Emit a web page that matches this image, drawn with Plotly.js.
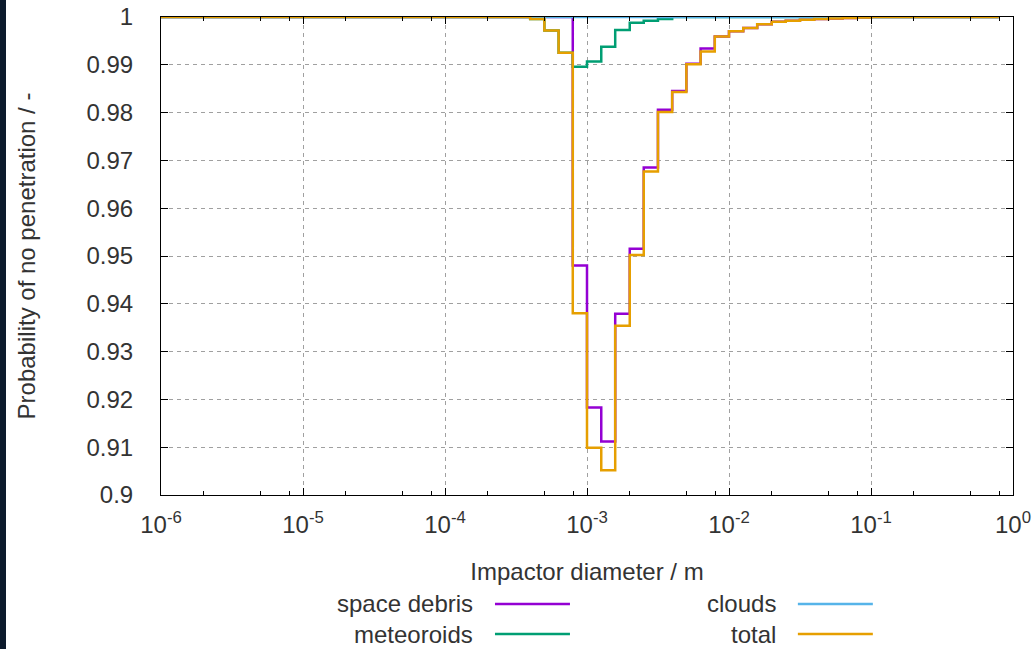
<!DOCTYPE html>
<html><head><meta charset="utf-8">
<script src="https://cdn.plot.ly/plotly-3.0.1.min.js"></script>
<style>
html,body{margin:0;padding:0;background:#fff;overflow:hidden}
#chart{width:1032px;height:649px}
#strip{position:absolute;left:0;top:0;width:6px;height:649px;background:#0c1a2c}
</style></head>
<body><div id="chart"></div><div id="strip"></div>
<script>
// left edges of the diameter bins (m); the last entry closes the last bin
const diameter = [1e-6, 3.98e-4, 5.01e-4, 6.31e-4, 7.94e-4, 1.0e-3, 1.26e-3, 1.58e-3, 2.0e-3, 2.51e-3,
  3.16e-3, 3.98e-3, 5.01e-3, 6.31e-3, 7.94e-3, 1.0e-2, 1.26e-2, 1.58e-2, 2.0e-2, 2.51e-2,
  3.16e-2, 3.98e-2, 5.01e-2, 6.31e-2, 7.94e-2, 1.0e-1, 7.94e-1];
const spaceDebris = [1, 1, 1, 1, 0.948, 0.9183, 0.9112, 0.9379, 0.9515, 0.9685,
  0.9806, 0.9845, 0.9902, 0.9934, 0.9959, 0.9970, 0.9977, 0.9985, 0.9990, 0.9992,
  0.9994, 0.9996, 0.9997, 0.9998, 0.9999, 1, 1];
const meteoroids = [1, 0.9996, 0.9972, 0.9925, 0.9896, 0.9907, 0.9938, 0.9973, 0.9988, 0.9992,
  0.9996, 1, 1, 1, 1, 1, 1, 1, 1, 1,
  1, 1, 1, 1, 1, 1, 1];
const clouds = [1, 1, 1, 1, 1, 1, 1, 1, 1, 1,
  1, 1, 1, 1, 1, 1, 1, 1, 1, 1,
  1, 1, 1, 1, 1, 1, 1];
const total = [1, 0.9996, 0.9972, 0.9925, 0.938, 0.9099, 0.9052, 0.9354, 0.9502, 0.9677,
  0.9801, 0.9843, 0.9901, 0.9928, 0.9959, 0.9970, 0.9977, 0.9985, 0.9990, 0.9992,
  0.9994, 0.9996, 0.9997, 0.9998, 0.9999, 1, 1];

const seriesNames = ['space debris', 'meteoroids', 'clouds', 'total'];
const seriesColors = ['#9400d3', '#009e73', '#56b4e9', '#e69f00'];
const seriesValues = [spaceDebris, meteoroids, clouds, total];

const xTickVals = [1e-6, 1e-5, 1e-4, 1e-3, 1e-2, 1e-1, 1];
const xTickText = ['10<sup>-6</sup>', '10<sup>-5</sup>', '10<sup>-4</sup>', '10<sup>-3</sup>', '10<sup>-2</sup>', '10<sup>-1</sup>', '10<sup>0</sup>'];
const xMinorTicks = [2e-6, 5e-6, 8e-6, 2e-5, 5e-5, 8e-5, 2e-4, 5e-4, 8e-4, 2e-3, 5e-3, 8e-3, 2e-2, 5e-2, 8e-2, 2e-1, 5e-1, 8e-1];
const yTickVals = [0.9, 0.91, 0.92, 0.93, 0.94, 0.95, 0.96, 0.97, 0.98, 0.99, 1];
const yTickText = ['0.9', '0.91', '0.92', '0.93', '0.94', '0.95', '0.96', '0.97', '0.98', '0.99', '1'];

const FONT = 'Liberation Sans, Arial, sans-serif';
const TXT = '#333333';
const FS = 24;

const traces = seriesNames.map((name, i) => ({
  type: 'scatter', mode: 'lines', name: name,
  x: diameter, y: seriesValues[i],
  line: {shape: 'hv', color: seriesColors[i], width: 2.5},
  showlegend: false, hoverinfo: 'x+y+name'
}));

// legend drawn gnuplot-style: text right-aligned, then line sample
const legX = [0.3685, 0.724];
const legY = [-0.228, -0.2908];
const annotations = [];
const shapes = [];
seriesNames.forEach((name, i) => {
  const col = i < 2 ? 0 : 1, row = i % 2;
  annotations.push({xref: 'paper', yref: 'paper', x: legX[col], y: legY[row], xanchor: 'right', yanchor: 'middle',
    text: name, showarrow: false, font: {family: FONT, size: FS, color: TXT}});
  shapes.push({type: 'line', xref: 'paper', yref: 'paper', x0: legX[col] + 0.0235, x1: legX[col] + 0.1115,
    y0: legY[row], y1: legY[row], line: {color: seriesColors[i], width: 2.5}});
});

const layout = {
  width: 1032, height: 649,
  margin: {l: 161, r: 19, t: 17, b: 154},
  paper_bgcolor: '#ffffff', plot_bgcolor: '#ffffff',
  font: {family: FONT, size: FS, color: TXT},
  xaxis: {
    type: 'log', range: [-6, 0],
    tickmode: 'array', tickvals: xTickVals, ticktext: xTickText,
    tickfont: {family: FONT, size: FS, color: TXT},
    ticks: 'inside', ticklen: 7, tickwidth: 1, tickcolor: '#000',
    showline: true, linecolor: '#000', linewidth: 1, mirror: 'ticks',
    showgrid: true, gridcolor: '#a0a0a0', griddash: '4px,4px', gridwidth: 1,
    zeroline: false, ticklabelstandoff: 8,
    minor: {tickmode: 'array', tickvals: xMinorTicks, ticks: 'inside', ticklen: 4, tickcolor: '#000', showgrid: false},
    title: {text: 'Impactor diameter / m', font: {family: FONT, size: FS, color: TXT}, standoff: 26},
    automargin: false
  },
  yaxis: {
    range: [0.9, 1],
    tickmode: 'array', tickvals: yTickVals, ticktext: yTickText,
    tickfont: {family: FONT, size: FS, color: TXT},
    ticks: 'inside', ticklen: 7, tickwidth: 1, tickcolor: '#000',
    showline: true, linecolor: '#000', linewidth: 1, mirror: 'ticks',
    showgrid: true, gridcolor: '#a0a0a0', griddash: '4px,4px', gridwidth: 1,
    zeroline: false, ticklabelstandoff: 22,
    title: {text: 'Probability of no penetration / -', font: {family: FONT, size: FS, color: TXT}, standoff: 44},
    automargin: false
  },
  annotations: annotations,
  shapes: shapes
};

Plotly.newPlot('chart', traces, layout, {staticPlot: true, displayModeBar: false});
</script>
</body></html>
